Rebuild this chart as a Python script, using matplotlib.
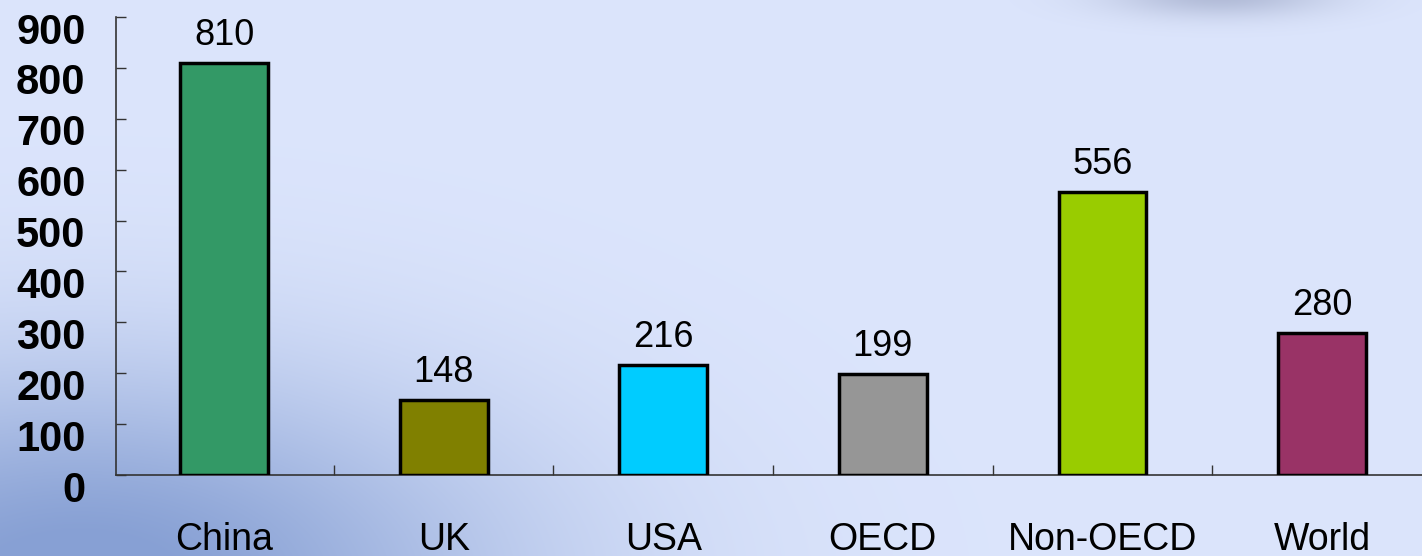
import numpy as np
import matplotlib
matplotlib.use('Agg')
import matplotlib.pyplot as plt
import matplotlib.transforms as mtransforms

categories = ['China', 'UK', 'USA', 'OECD', 'Non-OECD', 'World']
values = [810, 148, 216, 199, 556, 280]
bar_colors = ['#339966', '#808000', '#00CCFF', '#969696', '#99CC00', '#993366']
yticks = [0, 100, 200, 300, 400, 500, 600, 700, 800, 900]

plt.rcParams['font.family'] = ['Liberation Sans', 'DejaVu Sans']

W, H = 1422, 556
fig = plt.figure(figsize=(W / 100, H / 100), dpi=100)

# background: light blue with a darker blue patch bottom-left and a grey smudge top-right
yy, xx = np.mgrid[0:H, 0:W].astype(float)
base = np.array([220, 229, 252], dtype=float)
blue = np.array([135, 160, 212], dtype=float)
grey = np.array([160, 170, 200], dtype=float)
w1 = np.exp(-(((xx - 80) / 430) ** 2 + ((yy - 580) / 210) ** 2))
w1 = np.clip(w1 * 1.05, 0, 1)
w2 = np.exp(-(((xx - 1220) / 110) ** 2 + ((yy + 5) / 22) ** 2)) * 0.7
bg = base * (1 - w1[..., None]) + blue * w1[..., None]
bg = bg * (1 - w2[..., None]) + grey * w2[..., None]
bg_ax = fig.add_axes([0, 0, 1, 1], zorder=-1)
bg_ax.imshow(bg.astype(np.uint8), aspect='auto', extent=[0, 1, 0, 1])
bg_ax.axis('off')

ax = fig.add_axes([116 / W, (H - 475) / H, 1 - 116 / W, 458 / H])
ax.patch.set_alpha(0)

x = np.arange(len(categories))
bars = ax.bar(x, values, width=0.40, color=bar_colors, edgecolor='black',
              linewidth=2.5, zorder=3)
for b, v in zip(bars, values):
    ax.annotate(str(v), (b.get_x() + b.get_width() / 2, v), xytext=(0, 7),
                textcoords='offset points', ha='center', va='bottom', fontsize=26)

ax.set_xlim(-0.492, 5.455)
ax.set_ylim(0, 900)
ax.set_yticks(yticks)
ax.set_yticklabels([str(t) for t in yticks], fontsize=30, fontweight='bold')
ax.tick_params(axis='y', direction='in', length=7, width=1, color='#333333', pad=22)
offset = mtransforms.ScaledTranslation(0, -8 / 72, fig.dpi_scale_trans)
for lab in ax.get_yticklabels():
    lab.set_transform(lab.get_transform() + offset)

ax.set_xticks(x[:-1] + 0.5)
ax.set_xticklabels([])
ax.set_xticks(x, minor=True)
ax.set_xticklabels(categories, minor=True, fontsize=27)
ax.tick_params(axis='x', which='major', direction='in', length=7, width=1, color='#333333')
ax.tick_params(axis='x', which='minor', length=0, pad=34)

for s in ['top', 'right']:
    ax.spines[s].set_visible(False)
for s in ['left', 'bottom']:
    ax.spines[s].set_color('#333333')
    ax.spines[s].set_linewidth(1.2)

fig.savefig('out.png', dpi=100)
